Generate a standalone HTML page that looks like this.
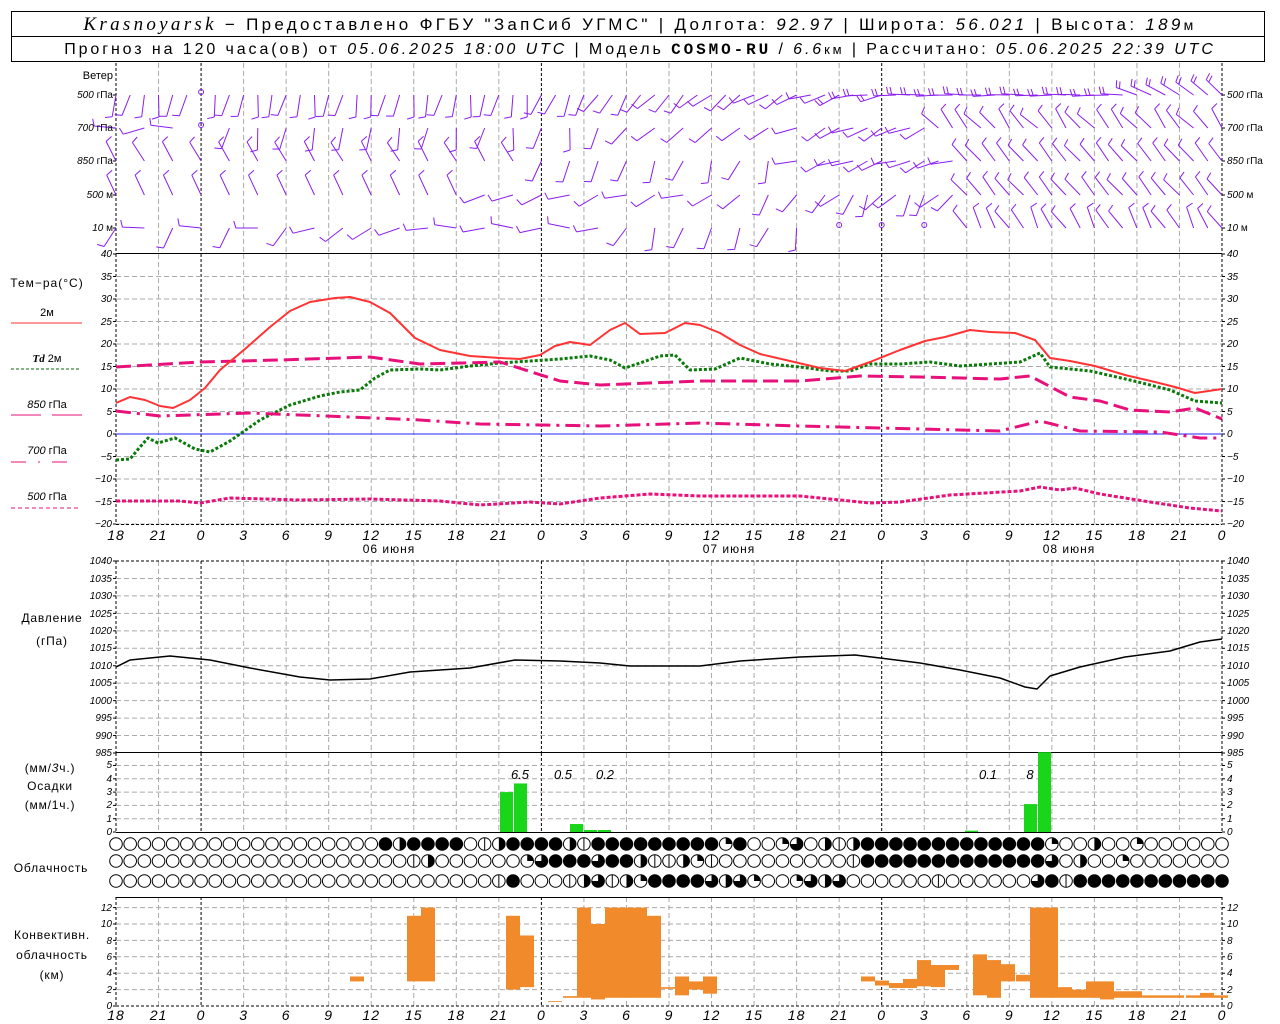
<!DOCTYPE html>
<html><head><meta charset="utf-8">
<style>
html,body{margin:0;padding:0;background:#fff;}
svg{display:block;}
text{font-family:"Liberation Sans","DejaVu Sans",sans-serif;}
.t{font-size:10px;font-style:italic;}
.l{font-size:12px;}
.h{font-size:17px;}
</style></head><body>
<svg id="s" width="1280" height="1024" viewBox="0 0 1280 1024" xmlns="http://www.w3.org/2000/svg">
<rect width="1280" height="1024" fill="#fff"/>
<!-- header -->
<rect x="11.5" y="11.5" width="1253" height="50" fill="none" stroke="#000"/>
<line x1="11" y1="36.5" x2="1265" y2="36.5" stroke="#000"/>
<text x="640" y="30" class="h" text-anchor="middle" letter-spacing="3.3"><tspan font-family="Liberation Serif" font-style="italic" font-size="19">Krasnoyarsk</tspan> − Предоставлено ФГБУ "ЗапСиб УГМС" | Долгота: <tspan font-style="italic">92.97</tspan> | Широта: <tspan font-style="italic">56.021</tspan> | Высота: <tspan font-style="italic">189</tspan><tspan font-size="14">м</tspan></text>
<text x="640" y="54" font-size="16" text-anchor="middle" letter-spacing="2.9">Прогноз на 120 часа(ов) от <tspan font-style="italic">05.06.2025 18:00 UTC</tspan> | Модель <tspan font-family="Liberation Mono" font-weight="bold">COSMO-RU</tspan> / <tspan font-style="italic">6.6</tspan><tspan font-size="13">км</tspan> | Рассчитано: <tspan font-style="italic">05.06.2025 22:39 UTC</tspan></text>

<g id="grid"></g>
<g id="data"></g>

<!-- wind labels -->
<g class="t" font-size="10">
<text x="113" y="79" text-anchor="end" font-style="normal" font-size="11">Ветер</text>
<text x="113" y="98" text-anchor="end">500 <tspan font-style="normal">гПа</tspan></text>
<text x="113" y="131" text-anchor="end">700 <tspan font-style="normal">гПа</tspan></text>
<text x="113" y="164" text-anchor="end">850 <tspan font-style="normal">гПа</tspan></text>
<text x="113" y="198" text-anchor="end">500 <tspan font-style="normal">м</tspan></text>
<text x="113" y="231" text-anchor="end">10 <tspan font-style="normal">м</tspan></text>
<text x="1227" y="98">500 <tspan font-style="normal">гПа</tspan></text>
<text x="1227" y="131">700 <tspan font-style="normal">гПа</tspan></text>
<text x="1227" y="164">850 <tspan font-style="normal">гПа</tspan></text>
<text x="1227" y="198">500 <tspan font-style="normal">м</tspan></text>
<text x="1227" y="231">10 <tspan font-style="normal">м</tspan></text>
</g>

<!-- temp axis labels -->
<g class="t" font-size="9">
<g text-anchor="end">
<text x="112" y="257">40</text><text x="112" y="280">35</text><text x="112" y="302">30</text><text x="112" y="325">25</text><text x="112" y="347">20</text><text x="112" y="370">15</text><text x="112" y="392">10</text><text x="112" y="415">5</text><text x="112" y="437">0</text><text x="112" y="460">−5</text><text x="112" y="482">−10</text><text x="112" y="505">−15</text><text x="112" y="527">−20</text>
</g>
<text x="1227" y="257">40</text><text x="1227" y="280">35</text><text x="1227" y="302">30</text><text x="1227" y="325">25</text><text x="1227" y="347">20</text><text x="1227" y="370">15</text><text x="1227" y="392">10</text><text x="1227" y="415">5</text><text x="1227" y="437">0</text><text x="1227" y="460">−5</text><text x="1227" y="482">−10</text><text x="1227" y="505">−15</text><text x="1227" y="527">−20</text>
</g>

<!-- temp legend -->
<g class="l" text-anchor="middle" font-size="12">
<text x="47" y="287" letter-spacing="1">Тем−ра(°C)</text>
<text x="47" y="316" font-size="11">2м</text>
<line x1="11" y1="323" x2="82" y2="323" stroke="#f33" stroke-width="1"/>
<text x="47" y="362" font-size="11"><tspan font-style="italic" font-family="Liberation Serif" font-weight="bold">Td</tspan>  2м</text>
<line x1="11" y1="369" x2="79" y2="369" stroke="#0a6a0a" stroke-dasharray="3,2"/>
<text x="47" y="408" font-size="11"><tspan font-style="italic">850</tspan> гПа</text>
<line x1="11" y1="415" x2="41" y2="415" stroke="#e8107a"/><line x1="52" y1="415" x2="82" y2="415" stroke="#e8107a"/>
<text x="47" y="454" font-size="11"><tspan font-style="italic">700</tspan> гПа</text>
<line x1="11" y1="462" x2="79" y2="462" stroke="#e8107a" stroke-dasharray="15,12,2,12"/>
<text x="47" y="500" font-size="11"><tspan font-style="italic">500</tspan> гПа</text>
<line x1="11" y1="508" x2="79" y2="508" stroke="#e8107a" stroke-dasharray="4,3"/>
</g>

<!-- hour labels -->
<g id="hrs" font-size="14" font-style="italic" text-anchor="middle" letter-spacing="1">
<text x="116" y="540">18</text><text x="158.5" y="540">21</text><text x="201" y="540">0</text><text x="243.6" y="540">3</text><text x="286.2" y="540">6</text><text x="328.7" y="540">9</text><text x="371.2" y="540">12</text><text x="413.8" y="540">15</text><text x="456.3" y="540">18</text><text x="498.9" y="540">21</text><text x="541.4" y="540">0</text><text x="583.9" y="540">3</text><text x="626.5" y="540">6</text><text x="669" y="540">9</text><text x="711.6" y="540">12</text><text x="754.1" y="540">15</text><text x="796.6" y="540">18</text><text x="839.2" y="540">21</text><text x="881.7" y="540">0</text><text x="924.3" y="540">3</text><text x="966.8" y="540">6</text><text x="1009.3" y="540">9</text><text x="1051.9" y="540">12</text><text x="1094.4" y="540">15</text><text x="1137" y="540">18</text><text x="1179.5" y="540">21</text><text x="1222" y="540">0</text>
</g>
<use href="#hrs" y="480"/>
<g font-size="12" text-anchor="middle" letter-spacing="1">
<text x="389" y="553">06 июня</text><text x="729" y="553">07 июня</text><text x="1069" y="553">08 июня</text>
</g>

<!-- pressure labels -->
<g class="t" font-size="9">
<g text-anchor="end">
<text x="112" y="564">1040</text><text x="112" y="582">1035</text><text x="112" y="599">1030</text><text x="112" y="617">1025</text><text x="112" y="634">1020</text><text x="112" y="651">1015</text><text x="112" y="669">1010</text><text x="112" y="686">1005</text><text x="112" y="704">1000</text><text x="112" y="721">995</text><text x="112" y="739">990</text><text x="112" y="756">985</text>
</g>
<text x="1227" y="564">1040</text><text x="1227" y="582">1035</text><text x="1227" y="599">1030</text><text x="1227" y="617">1025</text><text x="1227" y="634">1020</text><text x="1227" y="651">1015</text><text x="1227" y="669">1010</text><text x="1227" y="686">1005</text><text x="1227" y="704">1000</text><text x="1227" y="721">995</text><text x="1227" y="739">990</text><text x="1227" y="756">985</text>
</g>
<g font-size="12" text-anchor="middle" letter-spacing="0.8">
<text x="52" y="622">Давление</text><text x="52" y="645">(гПа)</text>
<text x="50" y="772">(мм/<tspan font-style="italic">3</tspan>ч.)</text><text x="50" y="790">Осадки</text><text x="50" y="809">(мм/1ч.)</text>
<text x="51" y="872">Облачность</text>
<text x="52" y="939">Конвективн.</text><text x="52" y="959">облачность</text><text x="52" y="979">(км)</text>
</g>
<!-- precip labels -->
<g class="t" font-size="9">
<g text-anchor="end">
<text x="112" y="768">5</text><text x="112" y="782">4</text><text x="112" y="795">3</text><text x="112" y="808">2</text><text x="112" y="822">1</text><text x="112" y="835">0</text>
</g>
<text x="1227" y="768">5</text><text x="1227" y="782">4</text><text x="1227" y="795">3</text><text x="1227" y="808">2</text><text x="1227" y="822">1</text><text x="1227" y="835">0</text>
<g text-anchor="end">
<text x="112" y="911">12</text><text x="112" y="927">10</text><text x="112" y="944">8</text><text x="112" y="960">6</text><text x="112" y="976">4</text><text x="112" y="993">2</text><text x="112" y="1009">0</text>
</g>
<text x="1227" y="911">12</text><text x="1227" y="927">10</text><text x="1227" y="944">8</text><text x="1227" y="960">6</text><text x="1227" y="976">4</text><text x="1227" y="993">2</text><text x="1227" y="1009">0</text>
</g>
<g font-size="13" font-style="italic" text-anchor="middle">
<text x="520" y="779">6.5</text><text x="563" y="779">0.5</text><text x="605" y="779">0.2</text><text x="988" y="779">0.1</text><text x="1030" y="779">8</text>
</g>
</svg>
<script>
(function(){
var NS="http://www.w3.org/2000/svg";
var G=document.getElementById("grid"),D=document.getElementById("data");
function el(p,t,a){var e=document.createElementNS(NS,t);for(var k in a)e.setAttribute(k,a[k]);p.appendChild(e);return e;}
var X0=116,X1=1222,dh=(X1-X0)/78;
var panels=[[63,253],[254,524],[561,753],[753,832],[897,1006]];
panels.forEach(function(p){
 for(var i=0;i<=26;i++){var x=X0+i*3*dh;var day=(i%8==2)||i==0||i==26;
  el(G,"line",{x1:x,y1:p[0],x2:x,y2:p[1],stroke:day?"#000":"#aaa","stroke-dasharray":day?"3,2":"5,3","stroke-width":1});
 }
});
function hl(y,c,d){el(G,"line",{x1:X0,y1:y,x2:X1,y2:y,stroke:c,"stroke-dasharray":d||"none"});}
for(var v=35;v>=-20;v-=5){hl(254+4.5*(40-v),"#aaa","5,3");}
for(var p=1035;p>985;p-=5){hl(561+(1040-p)*192/55,"#aaa","5,3");}
for(var v=1;v<=5;v++){hl(832-13.3*v,"#aaa","5,3");}
for(var v=2;v<=12;v+=2){hl(1006-8.2*v,"#aaa","5,3");}
hl(253.5,"#000");hl(752.5,"#000");hl(832.5,"#000");hl(897.5,"#000");hl(524.5,"#000","3,2");hl(1006,"#000","3,2");hl(561,"#000","3,2");
el(G,"line",{x1:X0,y1:434,x2:X1,y2:434,stroke:"#22f","stroke-width":1});
function ticks(ys){ys.forEach(function(y){el(G,"line",{x1:X0-3,y1:y,x2:X0,y2:y,stroke:"#000"});el(G,"line",{x1:X1,y1:y,x2:X1+3,y2:y,stroke:"#000"});});}
var ty=[];for(var v=40;v>=-20;v-=5)ty.push(254+4.5*(40-v));ticks(ty);
ty=[];for(var p=1040;p>=985;p-=5)ty.push(561+(1040-p)*192/55);ticks(ty);
ty=[];for(var v=0;v<=5;v++)ty.push(832-13.3*v);ticks(ty);
ty=[];for(var v=0;v<=12;v+=2)ty.push(1006-8.2*v);ticks(ty);
[95,128,161,195,228].forEach(function(y){ticks([y]);});
function line(pts,c,w,d){el(D,"polyline",{points:pts,fill:"none",stroke:c,"stroke-width":w,"stroke-dasharray":d||"none","stroke-linejoin":"round"});}
var rows=[95,128,161,195,228];
function dir(r,t){
 var s=Math.sin(t*1.7+r)*12;
 if(r==0){if(t<30)return 190+s;if(t<55)return 200+(t-30)*2.5+s;if(t<72)return 270+s*0.3;return 290+(t-72)*4;}
 if(r==1){if(t<7)return 265+s;if(t<36)return 190+s;if(t<46)return 230+s;if(t<58)return 245+s;return 320+s;}
 if(r==2){if(t<30)return (t%2?300:330)+s*0.3;if(t<48)return 200+s;if(t<60)return 250+s;return 320+s*0.5;}
 if(r==3){if(t<26)return (t%2?300:335);if(t<44)return 250+s;if(t<60)return 215+s*2;return 320+s*0.5;}
 if(t<22)return 240+s*3;if(t<36)return 270+s;if(t<50)return 200+s*2;if(t<60)return -1;return 330+s;
}
var P="#8a1cf0";
for(var r=0;r<5;r++){for(var t=0;t<=78;t++){
 var x=X0+t*dh,y=rows[r];var d=dir(r,t);
 if(t==6&&r<2||(r==4&&d<0&&t%3==0)){el(D,"circle",{cx:x,cy:y-3,r:2.5,fill:"none",stroke:P});continue;}
 if(d<0)continue;
 if(t%2==1 && t<50 && r!=0)continue;
 var a=d*Math.PI/180,dx=Math.sin(a),dy=-Math.cos(a),L=22;
 var ex=x+dx*L,ey=y+dy*L;
 var path="M"+x.toFixed(1)+" "+y+"L"+ex.toFixed(1)+" "+ey.toFixed(1);
 var fx=-dy,fy=dx,n=(r==0&&t>50)?2:1;
 for(var k=0;k<n;k++){var bx=ex-dx*k*3.5,by=ey-dy*k*3.5;path+="M"+bx.toFixed(1)+" "+by.toFixed(1)+"l"+(fx*7+dx*2).toFixed(1)+" "+(fy*7+dy*2).toFixed(1);}
 el(D,"path",{d:path,stroke:P,fill:"none","stroke-width":1});
}}
line("116,460 130,459 140,447 148,438 158,443 175,438 195,449 210,452 230,441 260,420 290,405 320,396 340,392 360,390 375,378 390,370 420,369 440,370 470,366 500,363 530,361 560,359 590,356 610,360 625,368 640,363 660,356 675,355 690,370 715,369 740,358 770,364 800,367 830,371 850,371 870,364 900,364 930,362 960,366 990,364 1020,362 1040,353 1050,367 1090,371 1130,380 1170,390 1195,401 1222,403","#0a7a0a",3,"3,2");
line("116,367 200,362 280,360 370,357 420,364 500,362 560,381 600,385 700,381 800,381 860,376 920,377 1000,379 1030,376 1070,397 1100,401 1130,410 1170,412 1195,408 1222,419","#e8107a",3,"15,6");
line("116,411 160,416 250,413 350,417 420,420 480,424 540,425 600,426 700,423 800,426 880,428 960,430 1000,431 1040,421 1080,431 1160,432 1200,438 1222,438","#e8107a",3,"15,6,3,6");
line("116,501 180,501 200,503 230,498 300,500 370,499 440,501 480,505 530,502 560,504 600,498 650,494 700,496 800,496 870,503 900,502 950,495 1020,491 1040,487 1060,490 1075,488 1100,494 1150,502 1190,508 1222,511","#e8107a",3,"4,2");
line("116,403 130,397 145,400 160,406 173,408 190,400 205,388 220,370 245,349 270,327 290,311 310,302 335,298 350,297 370,302 390,313 415,338 440,350 470,356 500,358 520,359 540,355 555,346 570,342 590,345 610,330 625,323 640,334 665,333 685,323 700,325 720,333 740,345 760,354 790,361 820,368 845,371 870,362 900,350 925,341 945,337 970,330 990,332 1015,333 1035,340 1050,358 1070,361 1095,366 1125,375 1155,382 1175,387 1195,393 1222,389","#f33",2);
line("116,667 130,660 170,656 210,660 250,668 300,677 330,680 370,679 410,672 470,668 515,660 560,661 600,663 630,666 700,666 740,661 800,657 855,655 880,658 920,663 960,670 1000,678 1025,687 1037,689 1050,676 1080,667 1125,657 1170,651 1200,642 1222,639","#000",1.5);
[[500,3],[514,3.65],[570,0.6],[584,0.15],[598,0.15],[965,0.1],[1024,2.1],[1038,6]].forEach(function(b){
 var h=b[1]*13.3;el(D,"rect",{x:b[0],y:832-h,width:13,height:h,fill:"#1ad61a"});});
var cb=[[350,3,3.6],[407,3,11],[421,3,12],[506,2,11],[520,2.3,8.6],[548,0.5,0.6],[563,1,1.2],[577,1,12],[591,0.8,10],[605,1,12],[619,1,12],[633,1,12],[647,1,11],[661,2.1,2.3],[675,1.3,3.6],[689,2,3],[703,1.5,3.6],[861,3,3.6],[875,2.5,3.1],[889,2.2,2.8],[903,2.2,3.3],[917,2.4,5.6],[931,2.3,5.0],[945,4.4,5.0],[973,1.3,6.3],[987,1,5.6],[1001,3,5.1],[1016,3,3.8],[1030,1,12],[1044,1,12],[1058,1,2.3],[1072,1,2],[1086,1,3],[1100,0.8,3],[1114,1,1.8],[1128,1,1.8],[1142,1,1.3],[1156,1,1.3],[1170,1,1.3],[1186,1,1.3],[1200,1,1.6],[1214,1,1.3]];
cb.forEach(function(b){var y1=1006-8.2*b[2],y0=1006-8.2*b[1];el(D,"rect",{x:b[0],y:y1,width:14,height:y0-y1,fill:"#f08a2a"});});
var R=["EEEEEEEEEEEEEEEEEEEFHFFFFEVHFFFFHVFFFFFFFFFQFEEQAEHVHFFFFFFFFFFFFFQEEHEEQEEEEEE",
       "EEEEEEEEEEEEEEEEEEEEEVHEEEEEEQAFFFAFFHVVHQVEEEEEEEEEVFFFFFFFFFFFFFAEHEEQEEEEEEE",
       "EEEEEEEEEEEEEEEEEEEEEEEEEEEVFEEEVHAVHQFFFFAHAQEEQAHAEEEEEEVEEEEEEAFVFFFFFFFFFFF"];
var cy=[844,861,881];
for(var r=0;r<3;r++){for(var i=0;i<79;i++){
 var c=R[r][i]||"E",x=X0+i*dh,y=cy[r],rr=6.3;
 el(D,"circle",{cx:x,cy:y,r:rr,fill:c=="F"?"#000":"#fff",stroke:"#000","stroke-width":1});
 if(c=="H")el(D,"path",{d:"M"+x+" "+(y-rr)+"A"+rr+" "+rr+" 0 0 1 "+x+" "+(y+rr)+"Z",fill:"#000"});
 if(c=="V")el(D,"line",{x1:x,y1:y-rr,x2:x,y2:y+rr,stroke:"#000"});
 if(c=="Q")el(D,"path",{d:"M"+x+" "+y+"L"+x+" "+(y-rr)+"A"+rr+" "+rr+" 0 0 1 "+(x+rr)+" "+y+"Z",fill:"#000"});
 if(c=="A")el(D,"path",{d:"M"+x+" "+y+"L"+x+" "+(y-rr)+"A"+rr+" "+rr+" 0 1 1 "+(x-rr)+" "+y+"Z",fill:"#000"});
}}
})();
</script>
</body></html>
